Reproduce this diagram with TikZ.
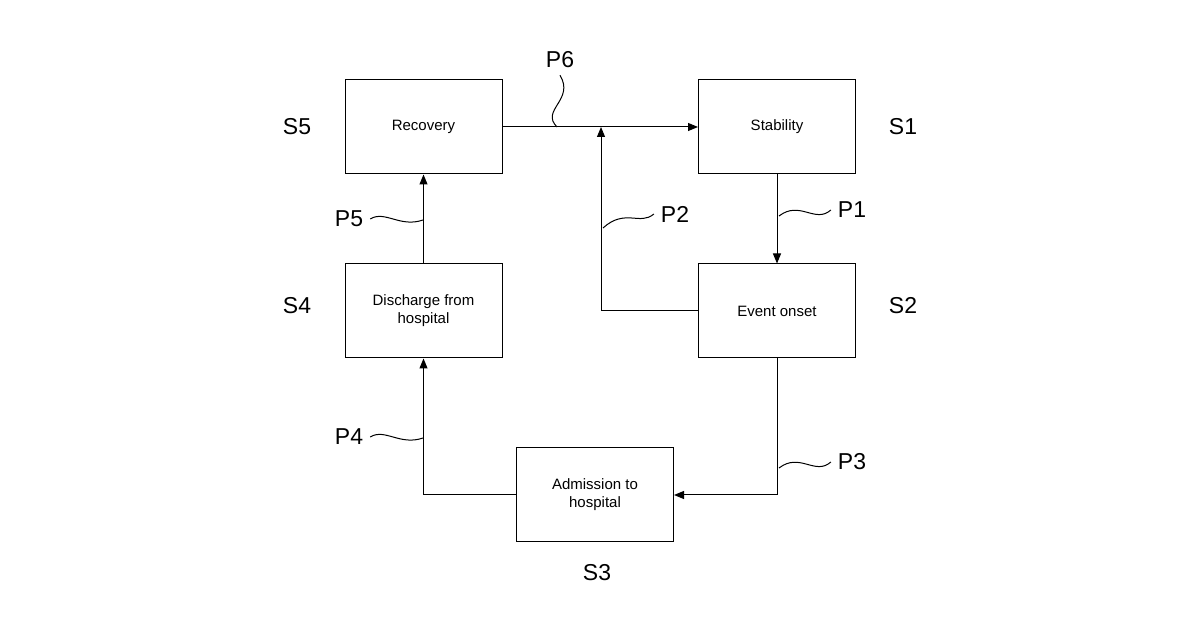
\documentclass[tikz,border=0pt]{standalone}
\usepackage{fontspec}
\setmainfont{Liberation Sans}
\usetikzlibrary{arrows.meta}
\begin{document}
\begin{tikzpicture}[x=0.5pt,y=-0.5pt,
  box/.style={draw,line width=0.5pt,minimum width=78.5pt,minimum height=47pt,align=center,font=\fontsize{7.5}{9}\selectfont,inner sep=0pt},
  lab/.style={font=\fontsize{11.5}{13}\selectfont},
  conn/.style={line width=0.5pt},
  arr/.style={conn,-{Triangle[length=5pt,width=4pt]}}]
\useasboundingbox (0,0) rectangle (1200,630);
\node[box] (rec) at (423.5,127) {Recovery};
\node[box] (sta) at (777,127) {Stability};
\node[box] (evt) at (777,311) {Event onset};
\node[box] (dis) at (423.5,311) {Discharge from\\hospital};
\node[box] (adm) at (595,495) {Admission to\\hospital};
\coordinate (j) at (601,127);
\draw[arr] (rec.east) -- (sta.west);
\draw[arr] (evt.west) -| (j);
\draw[arr] (sta.south) -- (evt.north);
\draw[arr] (evt.south) |- (adm.east);
\draw[arr] (adm.west) -| (dis.south);
\draw[arr] (dis.north) -- (rec.south);
\node[lab] (p6) at (560,60) {P6};
\node[lab] (p1) at (852,210) {P1};
\node[lab] (p2) at (675,214) {P2};
\node[lab] (p3) at (852,462) {P3};
\node[lab] (p4) at (349,437) {P4};
\node[lab] (p5) at (349,219) {P5};
\node[lab] (s5) at (297,127) {S5};
\node[lab] (s1) at (903,127) {S1};
\node[lab] (s4) at (297,306) {S4};
\node[lab] (s2) at (903,306) {S2};
\node[lab] (s3) at (597,573) {S3};
\draw[conn] (557,127) .. controls (540,110) and (575,100) .. (p6.south);
\draw[conn] (779,216) .. controls (800,200) and (815,224) .. (p1.west);
\draw[conn] (603,228) .. controls (625,208) and (640,226) .. (p2.west);
\draw[conn] (779,468) .. controls (800,452) and (815,476) .. (p3.west);
\draw[conn] (p4.east) .. controls (385,428) and (400,446) .. (423,438);
\draw[conn] (p5.east) .. controls (385,210) and (400,228) .. (423,220);
\end{tikzpicture}
\end{document}
